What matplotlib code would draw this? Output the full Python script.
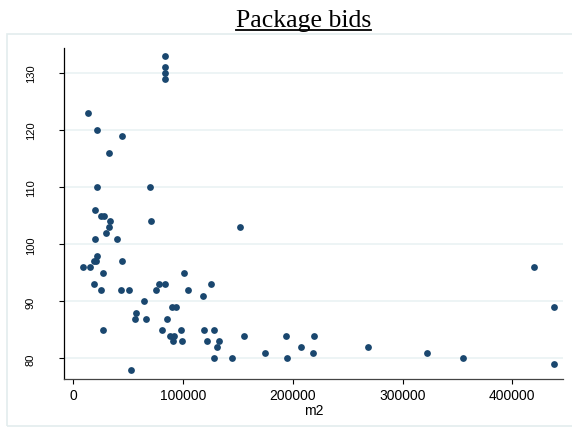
import matplotlib
matplotlib.use("Agg")
import matplotlib.pyplot as plt
from matplotlib.lines import Line2D
from matplotlib.patches import Rectangle

# floor area (m2) and bid for each package
m2 = [
    83560, 83560, 83560, 83560, 13120, 21320, 44370, 32530, 21320, 69890,
    20050, 24970, 27970, 33440, 70520, 32260, 30070, 20050, 40090, 151500,
    21320, 18860, 20680, 44100, 9110, 14940, 27330, 101140, 18860, 78360,
    83280, 125740, 24970, 43740, 50480, 75350, 104240, 117910, 64420, 90200,
    93850, 57130, 55950, 66240, 85650, 27330, 80550, 98410, 119090, 128470,
    88110, 91760, 155260, 194080, 219590, 90570, 99320, 121820, 132480, 131210,
    207750, 268250, 174400, 218410, 322000, 127930, 144330, 194990, 354810, 52300,
    420050, 438270, 438270,
]
bid = [
    133, 131, 130, 129, 123, 120, 119, 116, 110, 110,
    106, 105, 105, 104, 104, 103, 102, 101, 101, 103,
    98, 97, 97, 97, 96, 96, 95, 95, 93, 93,
    93, 93, 92, 92, 92, 92, 92, 91, 90, 89,
    89, 88, 87, 87, 87, 85, 85, 85, 85, 85,
    84, 84, 84, 84, 84, 83, 83, 83, 83, 82,
    82, 82, 81, 81, 81, 80, 80, 80, 80, 78,
    96, 89, 79,
]
x_ticks = [0, 100000, 200000, 300000, 400000]
y_ticks = [80, 90, 100, 110, 120, 130]

NAVY = "#1a476f"
GRID = "#eaf2f3"
W, H = 572, 431

fig = plt.figure(figsize=(W / 100, H / 100), dpi=100)
fig.patch.set_facecolor("white")

# light frame around the graph region
fig.patches.append(Rectangle((7.3 / W, 1 - 427 / H), (W - 7.3) / W + 0.01, (427 - 34.7) / H,
                             transform=fig.transFigure, fill=False,
                             edgecolor="#e3eced", linewidth=1.2))

ax = fig.add_axes([64.3 / W, 1 - 380 / H, (563 - 64.3) / W, (380 - 49) / H])
ax.set_facecolor("white")
ax.scatter(m2, bid, s=24, color=NAVY, linewidths=0, zorder=3)

ax.set_xlim(-8200, 446200)
ax.set_ylim(76.4, 134.4)
ax.set_xticks(x_ticks)
ax.set_xticklabels([str(v) for v in x_ticks])
ax.set_yticks(y_ticks)
ax.set_yticklabels([str(v) for v in y_ticks], rotation=90, va="center")

ax.grid(True, axis="y", color=GRID, linewidth=1.2, zorder=0)
ax.grid(False, axis="x")
for s in ("top", "right"):
    ax.spines[s].set_visible(False)
ax.spines["left"].set_color("black")
ax.spines["left"].set_linewidth(0.9)
ax.spines["bottom"].set_color("#444444")
ax.spines["bottom"].set_linewidth(0.9)

ax.tick_params(axis="x", length=3.5, width=0.8, pad=3, labelsize=10,
               labelfontfamily="Liberation Sans")
ax.tick_params(axis="y", length=3.6, width=0.8, pad=17, labelsize=8,
               labelfontfamily="Liberation Sans")
ax.set_xlabel("m2", fontsize=10, family="Liberation Sans", labelpad=1)

# underlined serif title
title = fig.text(235.7 / W, 1 - 26.7 / H, "Package bids", ha="left", va="baseline",
                 fontsize=18.5, family="Liberation Serif", color="black")
fig.canvas.draw()
bb = title.get_window_extent(fig.canvas.get_renderer())
uy = 1 - 31 / H
fig.add_artist(Line2D([bb.x0 / W, bb.x1 / W], [uy, uy], transform=fig.transFigure,
                      color="black", linewidth=1.3))

fig.savefig("out.png", dpi=100, facecolor="white")
